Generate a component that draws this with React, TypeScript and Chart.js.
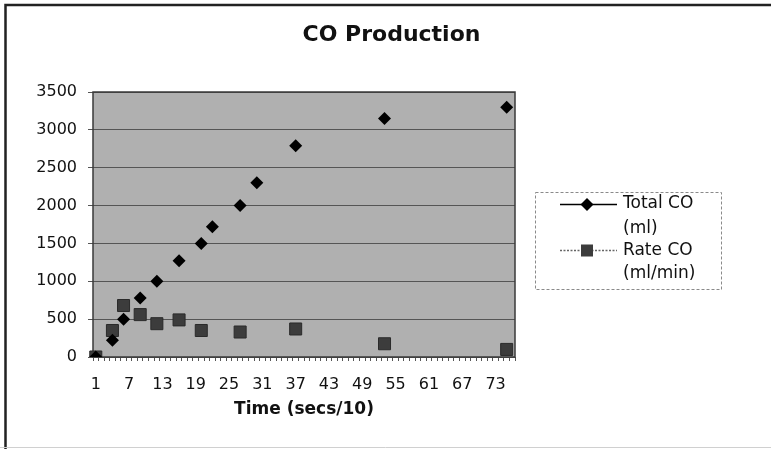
import React, { useEffect, useRef } from 'react';
import { Chart, registerables } from 'chart.js';

Chart.register(...registerables);

// ---- data ----
const categoryCount = 76;
const categories: string[] = Array.from({ length: categoryCount }, (_, i) => String(i + 1));
const labelEvery = 6;

const sampleTimes = [1, 4, 6, 9, 12, 16, 20, 22, 27, 30, 37, 53, 75];
const totalCO = [0, 220, 500, 780, 1000, 1270, 1500, 1720, 2000, 2300, 2790, 3150, 3300];
const rateCO: (number | null)[] = [0, 350, 680, 560, 440, 490, 350, null, 330, null, 370, 175, 100];

const yMin = 0;
const yMax = 3500;
const yStep = 500;

const seriesNames = ['Total CO (ml)', 'Rate CO (ml/min)'];
const legendLines = [['Total CO', '(ml)'], ['Rate CO', '(ml/min)']];

const toSeries = (vals: (number | null)[]) =>
  categories.map((c) => {
    const idx = sampleTimes.indexOf(Number(c));
    return idx >= 0 ? vals[idx] : null;
  });

const FONT = "'DejaVu Sans', 'Liberation Sans', sans-serif";

const framePlugin = {
  id: 'frameAndLegend',
  beforeDraw(chart: any) {
    const { ctx, chartArea: a, width, height } = chart;
    ctx.save();
    ctx.fillStyle = '#ffffff';
    ctx.fillRect(0, 0, width, height);
    ctx.fillStyle = '#b0b0b0';
    ctx.fillRect(a.left, a.top, a.right - a.left, a.bottom - a.top);
    ctx.strokeStyle = '#222';
    ctx.lineWidth = 2.5;
    ctx.beginPath();
    ctx.moveTo(5.5, height);
    ctx.lineTo(5.5, 5);
    ctx.lineTo(width, 5);
    ctx.stroke();
    ctx.strokeStyle = '#d0d0d0';
    ctx.lineWidth = 1;
    ctx.beginPath();
    ctx.moveTo(0, height - 1.5);
    ctx.lineTo(width, height - 1.5);
    ctx.stroke();
    ctx.restore();
  },
  beforeDatasetsDraw(chart: any) {
    const { ctx, chartArea: a } = chart;
    ctx.save();
    ctx.strokeStyle = '#3a3a3a';
    ctx.lineWidth = 1.5;
    ctx.strokeRect(a.left, a.top, a.right - a.left, a.bottom - a.top);
    ctx.restore();
  },
  afterDraw(chart: any) {
    const { ctx } = chart;
    ctx.save();
    // legend box
    ctx.strokeStyle = '#8a8a8a';
    ctx.lineWidth = 1;
    ctx.setLineDash([3, 2]);
    ctx.strokeRect(535.5, 192.5, 186, 97);
    ctx.setLineDash([]);
    // Total CO sample
    ctx.strokeStyle = '#000';
    ctx.lineWidth = 1.5;
    ctx.beginPath();
    ctx.moveTo(560, 204.5);
    ctx.lineTo(617, 204.5);
    ctx.stroke();
    ctx.fillStyle = '#000';
    ctx.beginPath();
    ctx.moveTo(587, 198);
    ctx.lineTo(593.5, 204.5);
    ctx.lineTo(587, 211);
    ctx.lineTo(580.5, 204.5);
    ctx.closePath();
    ctx.fill();
    // Rate CO sample
    ctx.strokeStyle = '#666';
    ctx.lineWidth = 1.5;
    ctx.setLineDash([2, 1.5]);
    ctx.beginPath();
    ctx.moveTo(560, 250.5);
    ctx.lineTo(617, 250.5);
    ctx.stroke();
    ctx.setLineDash([]);
    ctx.fillStyle = '#3c3c3c';
    ctx.fillRect(581, 244.5, 12, 12);
    // texts
    ctx.fillStyle = '#111';
    ctx.font = `17px ${FONT}`;
    ctx.textBaseline = 'middle';
    ctx.textAlign = 'left';
    ctx.fillText(legendLines[0][0], 623, 204);
    ctx.fillText(legendLines[0][1], 623, 229);
    ctx.fillText(legendLines[1][0], 623, 251);
    ctx.fillText(legendLines[1][1], 623, 274);
    ctx.restore();
  },
};

export default function App() {
  const ref = useRef<HTMLCanvasElement>(null);

  useEffect(() => {
    document.body.style.margin = '0';
    const canvas = ref.current!;
    const chart = new Chart(canvas, {
      type: 'line',
      data: {
        labels: categories,
        datasets: [
          {
            label: seriesNames[0],
            data: toSeries(totalCO),
            yAxisID: 'y',
            borderColor: '#000',
            borderWidth: 1.5,
            backgroundColor: '#000',
            pointStyle: 'rectRot',
            pointRadius: 6.5,
            pointBorderWidth: 0,
            pointBackgroundColor: '#000',
            spanGaps: false,
          },
          {
            label: seriesNames[1],
            data: toSeries(rateCO),
            yAxisID: 'y',
            borderColor: '#666',
            borderWidth: 1.5,
            borderDash: [2, 2],
            backgroundColor: '#3c3c3c',
            pointStyle: 'rect',
            pointRadius: 8.5,
            pointBorderWidth: 1,
            pointBorderColor: '#2a2a2a',
            pointBackgroundColor: '#3c3c3c',
            spanGaps: false,
          },
        ],
      },
      options: {
        responsive: false,
        animation: false,
        layout: { padding: { left: 12, right: 0, top: 0, bottom: 0 } },
        plugins: {
          legend: { display: false },
          tooltip: { enabled: false },
          title: {
            display: true,
            text: 'CO Production',
            color: '#111',
            font: { family: FONT, size: 22, weight: 'bold', lineHeight: 1.2 },
            padding: { top: 22, bottom: 43.6 },
          },
        },
        scales: {
          x: {
            type: 'category',
            offset: true,
            grid: {
              display: true,
              drawOnChartArea: false,
              drawTicks: true,
              tickLength: 4,
              offset: true,
              color: '#555',
            },
            border: { display: false },
            ticks: {
              autoSkip: false,
              maxRotation: 0,
              minRotation: 0,
              padding: 14,
              color: '#111',
              font: { family: FONT, size: 16 },
              callback: (_v: any, index: number) => (index % labelEvery === 0 ? categories[index] : ''),
            },
            title: {
              display: true,
              text: 'Time (secs/10)',
              color: '#111',
              font: { family: FONT, size: 17, weight: 'bold', lineHeight: 1.2 },
              padding: { top: 0, bottom: 29.5 },
            },
            afterFit: (s: any) => {
              s.height = 92;
            },
          },
          y: {
            type: 'linear',
            min: yMin,
            max: yMax,
            ticks: {
              stepSize: yStep,
              padding: 11,
              color: '#111',
              font: { family: FONT, size: 16 },
              callback: (v: any) => String(v),
            },
            grid: { color: '#555', tickLength: 5, drawTicks: true, lineWidth: 1 },
            border: { display: false },
            afterFit: (s: any) => {
              s.width = 81;
            },
          },
          yPad: {
            type: 'linear',
            position: 'right',
            display: true,
            ticks: { display: false },
            grid: { display: false },
            border: { display: false },
            afterFit: (s: any) => {
              s.width = 256;
            },
          },
        },
      } as any,
      plugins: [framePlugin],
    });
    return () => chart.destroy();
  }, []);

  return (
    <div style={{ width: 771, height: 449 }}>
      <canvas ref={ref} width={771} height={449} style={{ display: 'block' }} />
    </div>
  );
}
